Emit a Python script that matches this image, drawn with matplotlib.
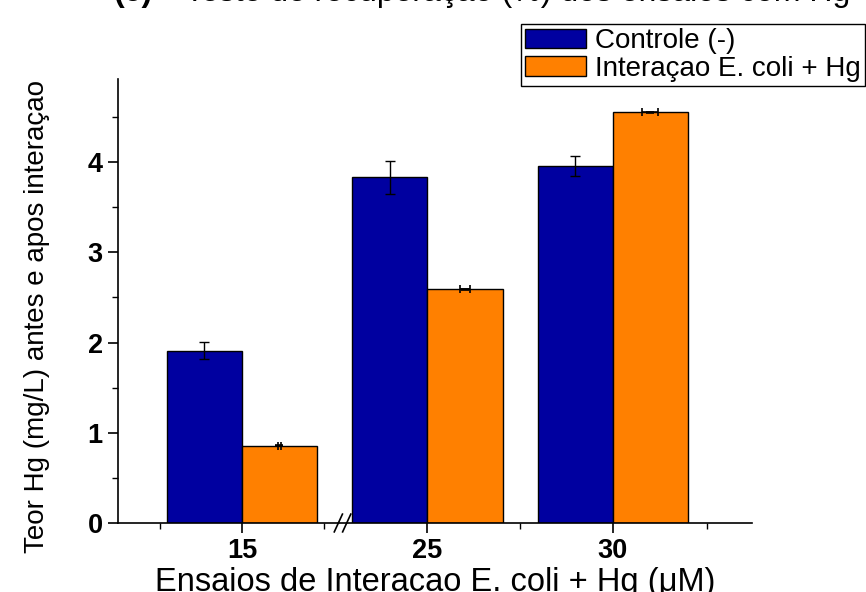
import numpy as np
import matplotlib
matplotlib.use("Agg")
import matplotlib.pyplot as plt
import matplotlib.transforms as mtransforms
from matplotlib.ticker import FixedLocator, MultipleLocator

plt.rcParams["font.family"] = ["Liberation Sans", "DejaVu Sans"]

# =========================
# data
# =========================
categories = ["15", "25", "30"]
controle = [1.91, 3.83, 3.955]
controle_err = [0.095, 0.185, 0.11]
interacao = [0.855, 2.59, 4.55]
interacao_err_y = [0.005, 0.005, 0.005]
interacao_err_x = [0.008, 0.025, 0.043]

title_tag = "(c)"
title_text = "Teste de recuperação (%) dos ensaios com Hg"
xlabel = "Ensaios de Interacao E. coli + Hg (\u03bcM)"
ylabel = "Teor Hg (mg/L) antes e apos interaçao"
legend_labels = ["Controle (-)", "Interaçao E. coli + Hg"]

BLUE = "#0000A0"
ORANGE = "#FF8000"

# =========================
# plotting
# =========================
fig = plt.figure(figsize=(8.66, 5.92), dpi=100)
ax = fig.add_axes([118 / 866, 1 - 523 / 592, 634 / 866, 444 / 592])

x = np.arange(len(categories))
w = 0.405

b1 = ax.bar(x - w / 2, controle, w, color=BLUE, edgecolor="black", linewidth=1.0,
            label=legend_labels[0], zorder=2)
b2 = ax.bar(x + w / 2, interacao, w, color=ORANGE, edgecolor="black", linewidth=1.0,
            label=legend_labels[1], zorder=2)

ax.errorbar(x - w / 2, controle, yerr=controle_err, fmt="none", ecolor="black",
            elinewidth=1.0, capsize=3.5, capthick=1.0, zorder=3)
ax.errorbar(x + w / 2, interacao, yerr=interacao_err_y, xerr=interacao_err_x, fmt="none",
            ecolor="black", elinewidth=1.2, capsize=3.0, capthick=1.2, zorder=3)

ax.set_xlim(-0.668, 2.75)
ax.set_ylim(0, 4.92)

# spines
for s in ["top", "right"]:
    ax.spines[s].set_visible(False)
for s in ["left", "bottom"]:
    ax.spines[s].set_linewidth(1.2)

# ticks
ax.set_xticks(x)
ax.set_xticklabels(categories)
ax.xaxis.set_minor_locator(FixedLocator([-0.44, 0.44, 1.5, 2.51]))
ax.yaxis.set_major_locator(MultipleLocator(1))
ax.yaxis.set_minor_locator(MultipleLocator(0.5))
ax.tick_params(axis="both", which="major", direction="out", length=7, width=1.2,
               labelsize=19.5, pad=4)
ax.tick_params(axis="both", which="minor", direction="out", length=4, width=1.0)
for lab in ax.get_xticklabels() + ax.get_yticklabels():
    lab.set_fontweight("bold")

# axis break marks "//"
trans = mtransforms.blended_transform_factory(ax.transData, ax.transAxes)
for xb in [0.52, 0.565]:
    ax.plot([xb - 0.022, xb + 0.022], [-0.02, 0.02], color="black", lw=1.2,
            transform=trans, clip_on=False, zorder=5)

# labels
ax.set_xlabel(xlabel, fontsize=23.5)
ax.xaxis.set_label_coords(0.5, -0.1)
ax.set_ylabel(ylabel, fontsize=20)
ax.yaxis.set_label_coords(-0.108, 0.466)

# title (cut off at the top of the picture, as in the original)
fig.text(113 / 866, 1 - 1.5 / 592, title_tag, fontsize=23, fontweight="bold",
         va="baseline", ha="left")
fig.text(185 / 866, 1 - 1.5 / 592, title_text, fontsize=23, va="baseline", ha="left")

# legend
leg = fig.legend(handles=[b1, b2], loc="upper left",
                 bbox_to_anchor=(521 / 866, 1 - 24 / 592), fontsize=20,
                 frameon=True, fancybox=False, edgecolor="black", framealpha=1,
                 handlelength=2.2, handleheight=0.72, handletextpad=0.3,
                 labelspacing=0.05, borderpad=0.15, borderaxespad=0)
leg.get_frame().set_linewidth(1.0)

fig.savefig("out.png", dpi=100)
